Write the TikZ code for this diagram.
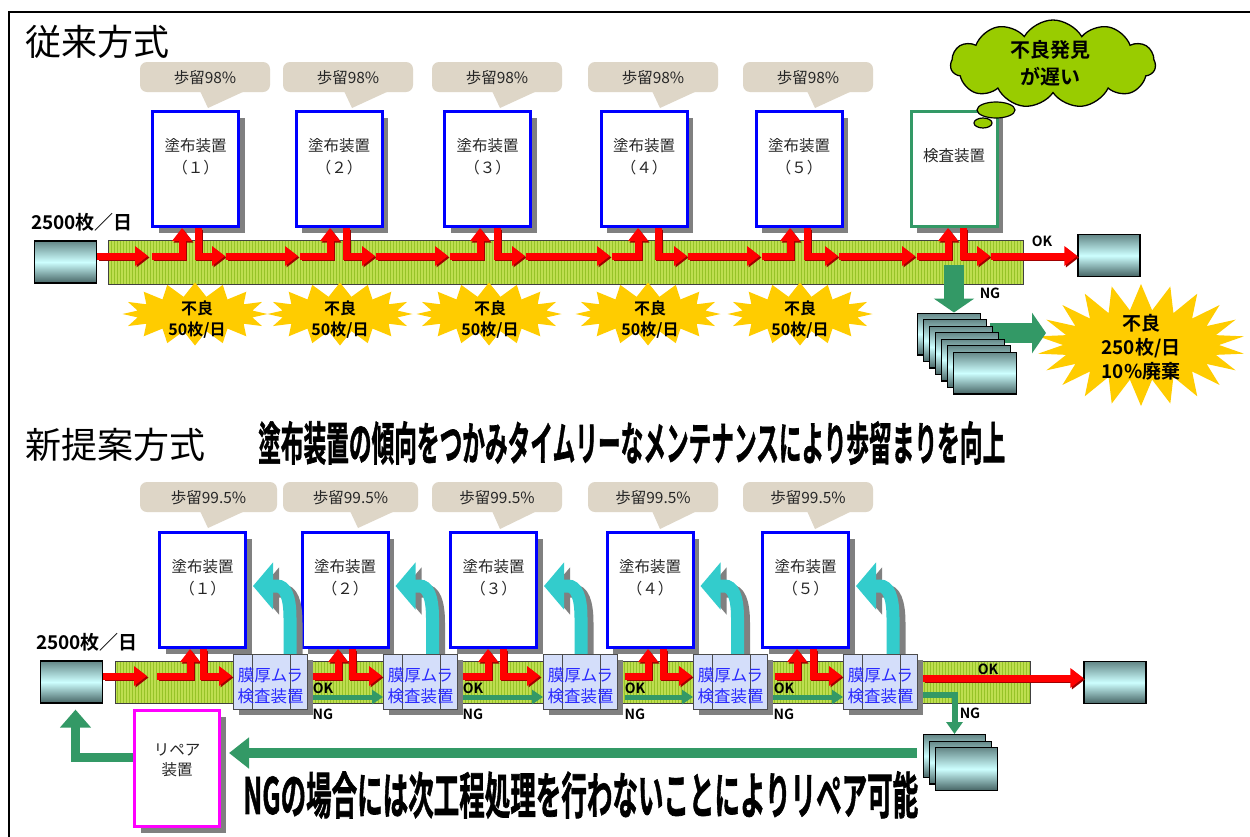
\documentclass[tikz,border=0pt]{standalone}
\usepackage{fontspec}
\setmainfont{Noto Sans CJK JP}[BoldFont={Noto Sans CJK JP Bold}]
\newfontfamily\heavy{Noto Sans CJK JP Bold}[FakeBold=1.5]
\usetikzlibrary{arrows.meta,shapes.symbols,shadows,patterns,calc}
\definecolor{beige}{RGB}{222,214,199}
\definecolor{cblue}{RGB}{0,0,255}
\definecolor{igreen}{RGB}{51,153,102}
\definecolor{beltc}{RGB}{190,222,80}
\definecolor{beltd}{RGB}{150,195,40}
\definecolor{cloudg}{RGB}{153,204,0}
\definecolor{staryel}{RGB}{255,204,0}
\definecolor{cyanc}{RGB}{51,204,204}
\definecolor{shgray}{RGB}{128,128,128}
\definecolor{insfill}{RGB}{212,222,250}
\definecolor{instext}{RGB}{40,40,255}
\definecolor{dred}{RGB}{160,0,0}
\definecolor{traytop}{RGB}{100,135,135}
\definecolor{traymid}{RGB}{205,255,255}
\definecolor{traybot}{RGB}{70,100,100}
\definecolor{magentab}{RGB}{255,0,255}
\tikzset{
  boxshadow/.style={drop shadow={shadow xshift=6pt, shadow yshift=-6pt, fill=shgray, opacity=1}},
  coater/.style={draw=cblue, line width=3pt, fill=white, minimum width=86pt, minimum height=115pt, inner sep=0pt, boxshadow},
  inspbox/.style={coater, draw=igreen},
  repbox/.style={coater, draw=magentab, minimum width=85pt, minimum height=116pt},
  boxtext/.style={font=\fontsize{15.5}{22}\selectfont, align=center, inner sep=0pt, text=black!85},
  bubtext/.style={font=\fontsize{15.5}{18}\selectfont, inner sep=0pt, text=black!85},
  mura/.style={draw=black!70, line width=1pt, fill=insfill, minimum width=74pt, minimum height=55pt, inner sep=0pt,
     drop shadow={shadow xshift=5pt, shadow yshift=-5pt, fill=shgray, opacity=1}},
  muratext/.style={font=\fontsize{16.5}{21}\selectfont, align=center, inner sep=0pt, text=instext},
  belt/.style={draw=black!75, line width=0.8pt, preaction={fill=beltc}, pattern=vertical lines, pattern color=beltd, inner sep=0pt},
  tray/.style={draw=black, line width=1.2pt, top color=traytop, bottom color=traybot, middle color=traymid, minimum width=62pt, minimum height=42pt, inner sep=0pt},
  title/.style={font=\fontsize{36}{40}\selectfont, anchor=west, inner sep=0pt},
  qty/.style={font=\bfseries\fontsize{19}{20}\selectfont, inner sep=0pt},
  lab/.style={font=\bfseries\fontsize{14}{14}\selectfont, inner sep=0pt},
  starb/.style={starburst, fill=staryel, draw=none, minimum width=145pt, minimum height=63pt, starburst points=16, starburst point height=14pt, random starburst=0, inner sep=0pt},
  startext/.style={font=\bfseries\fontsize{16}{21}\selectfont, align=center, inner sep=0pt},
  redarr/.style={draw=red, line width=7pt, -{Triangle[length=13pt,width=19pt]}},
  redsh/.style={redarr, draw=dred, transform canvas={xshift=1.5pt,yshift=-1.5pt}},
  gok/.style={draw=igreen, line width=5pt, -{Triangle[length=11pt,width=14pt]}},
  gng/.style={draw=igreen, line width=6pt, -{Triangle[length=12pt,width=16pt]}},
  gbig/.style={draw=igreen, line width=10pt, -{Triangle[length=20pt,width=30pt]}},
  gret/.style={draw=igreen, line width=9pt, -{Triangle[length=18pt,width=30pt]}},
  gblock/.style={draw=igreen, line width=20pt, -{Triangle[length=14pt,width=40pt]}},
  cyanA/.style={draw=cyanc, line width=13pt, -{Triangle[length=20pt,width=46pt]}},
  cyanS/.style={cyanA, draw=shgray, transform canvas={xshift=6pt,yshift=-5pt}},
}
% speech bubble: name, x1, x2, y1, y2, text, tipx, tipy
\newcommand\bubble[8]{%
  \fill[beige, rounded corners=7pt] (#2,#4) rectangle (#3,#5);
  \fill[beige] ({#7-8},{#5-1}) -- (#7,#8) -- ({#7+37},{#5-1}) -- cycle;
  \node[bubtext] (#1) at ({(#2+#3)/2},{(#4+#5)/2+1}) {#6};
}
\newcommand\redpath[1]{\draw[redsh] #1; \draw[redarr] #1;}
% machine routing: node, belt y, start x, up x, down x, end x
\newcommand\machine[6]{%
  \coordinate (#1-in) at (#3,#2);
  \coordinate (#1-up) at (#4,#2);
  \coordinate (#1-dn) at (#5,#2);
  \coordinate (#1-out) at (#6,#2);
  \redpath{(#1-in) -| (#1-up |- #1.south)}
  \redpath{(#1-dn |- #1.south) |- (#1-out)}
}
% cyan feedback arrow: inspection node, coater node
\newcommand\cyanpath[1]{(#1-c0) -- ($(#1-c0)+(0,-36)$) .. controls ($(#1-c0)+(0,-58)$) and ($(#1-ct)+(32,0)$) .. ($(#1-ct)+(24,0)$) -- (#1-ct)}
\newcommand\feedback[2]{%
  \coordinate (#1-cx) at ($(#2.east)+(43,0)$);
  \coordinate (#1-c0) at (#1-cx |- #1.north);
  \coordinate (#1-ct) at ($(#2.east)+(6,-4)$);
  \draw[cyanS] \cyanpath{#1};
  \draw[cyanA] \cyanpath{#1};
}
\begin{document}
\begin{tikzpicture}[x=1pt,y=-1pt]
\useasboundingbox (0,0) rectangle (1250,836);
\fill[white] (0,0) rectangle (1250,836);
\draw[line width=2pt] (1252,12) -- (9,12) -- (9,838);

% ================= 従来方式 =================
\node[title] (ttl1) at (25,42) {従来方式};
\node[qty] (q1) at (82,222) {2500枚／日};

\node[belt, minimum width=915pt, minimum height=44pt] (belt1) at (565.5,262) {};
\node[tray] (src1) at (65.5,262) {};
\node[tray] (dst1) at (1109,255.5) {};

\bubble{c1}{140}{270}{62}{92}{歩留98\%}{208}{108}
\bubble{c2}{283}{413}{62}{92}{歩留98\%}{352}{108}
\bubble{c3}{432}{562}{62}{92}{歩留98\%}{500}{108}
\bubble{c4}{588}{718}{62}{92}{歩留98\%}{660}{108}
\bubble{c5}{743}{873}{62}{92}{歩留98\%}{815}{108}

\node[coater] (t1) at (195.5,169) {};
\node[coater] (t2) at (339,169) {};
\node[coater] (t3) at (487.5,169) {};
\node[coater] (t4) at (644,169) {};
\node[coater] (t5) at (799,169) {};
\node[inspbox] (ti) at (954,169) {};
\node[boxtext] (t1x) at ($(t1.north)+(0,47)$) {塗布装置\\（１）};
\node[boxtext] (t2x) at ($(t2.north)+(0,47)$) {塗布装置\\（２）};
\node[boxtext] (t3x) at ($(t3.north)+(0,47)$) {塗布装置\\（３）};
\node[boxtext] (t4x) at ($(t4.north)+(0,47)$) {塗布装置\\（４）};
\node[boxtext] (t5x) at ($(t5.north)+(0,47)$) {塗布装置\\（５）};
\node[boxtext] (tix) at ($(ti.north)+(0,46)$) {検査装置};

% cloud
\node[cloud, cloud puffs=11, cloud puff arc=120, aspect=2.3, fill=cloudg, draw=black, line width=1.3pt,
      minimum width=205pt, minimum height=88pt, inner sep=0pt] (cl) at (1053,64) {};
\filldraw[fill=cloudg, draw=black, line width=1.2pt] (996,110) ellipse [x radius=19pt, y radius=8pt];
\filldraw[fill=cloudg, draw=black, line width=1.2pt] (983,123) ellipse [x radius=9pt, y radius=5pt];
\node[font=\bfseries\fontsize{20}{27}\selectfont, align=center, inner sep=0pt] (clx) at (1050,63) {不良発見\\が遅い};

% stars
\node[starb] (s1) at (195,314) {};
\node[starb] (s2) at (340,314) {};
\node[starb] (s3) at (489,314) {};
\node[starb] (s4) at (648,314) {};
\node[starb] (s5) at (800,314) {};
\node[startext] (s1x) at (197,320) {不良\\50枚/日};
\node[startext] (s2x) at (340,320) {不良\\50枚/日};
\node[startext] (s3x) at (490,320) {不良\\50枚/日};
\node[startext] (s4x) at (650,320) {不良\\50枚/日};
\node[startext] (s5x) at (800,320) {不良\\50枚/日};

\node[starb, minimum width=208pt, minimum height=122pt, starburst points=22, starburst point height=26pt] (sbig) at (1141,345) {};
\node[startext, font=\bfseries\fontsize{19}{24}\selectfont] (sbigx) at (1141,347) {不良\\250枚/日\\10\%廃棄};

% NG flow top
\coordinate (gdn) at (954,265);
\coordinate (grt) at (990,333);
\draw[gblock] (grt) -- (1046,333);
\foreach \k in {0,...,6} {
  \node[tray, minimum width=62.8pt, minimum height=41.8pt] (ts\k) at ({949+6*\k},{334+6.5*\k}) {};
}
\draw[gblock] (gdn) -- (gdn |- ts0.north);

% red flow top
\machine{t1}{256}{152}{182}{198}{225}
\machine{t2}{256}{300}{330}{346}{375}
\machine{t3}{256}{450}{480}{497}{525}
\machine{t4}{256}{612}{638}{658}{687}
\machine{t5}{256}{762}{790}{807}{838}
\machine{ti}{256}{917}{948}{963}{990}
\redpath{(src1.east |- t1-in) -- ([xshift=-4pt]t1-in)}
\redpath{([xshift=1pt]t1-out) -- ([xshift=-2pt]t2-in)}
\redpath{([xshift=1pt]t2-out) -- ([xshift=-2pt]t3-in)}
\redpath{([xshift=1pt]t3-out) -- ([xshift=-2pt]t4-in)}
\redpath{([xshift=1pt]t4-out) -- ([xshift=-2pt]t5-in)}
\redpath{([xshift=1pt]t5-out) -- ([xshift=-2pt]ti-in)}
\redpath{([xshift=1pt]ti-out) -- (ti-out -| dst1.west)}
\node[lab] (okt) at (1042,241) {OK};
\node[lab] (ngt) at (990,293) {NG};

% ================= 新提案方式 =================
\node[title] (ttl2) at (25,445) {新提案方式};
\node[anchor=west, inner sep=0pt] (ban1) at (258,443)
  {\resizebox{747pt}{\height}{\heavy\fontsize{46}{50}\selectfont 塗布装置の傾向をつかみタイムリーなメンテナンスにより歩留まりを向上}};
\node[qty] (q2) at (87,642) {2500枚／日};

\node[belt, minimum width=915pt, minimum height=42pt] (belt2) at (572.5,682) {};
\node[tray] (src2) at (71.5,682) {};
\node[tray] (dst2) at (1115,682.5) {};

\bubble{d1}{140}{277}{482}{512}{歩留99.5\%}{208}{528}
\bubble{d2}{283}{418}{482}{512}{歩留99.5\%}{358}{528}
\bubble{d3}{432}{562}{482}{512}{歩留99.5\%}{500}{529}
\bubble{d4}{588}{718}{482}{512}{歩留99.5\%}{660}{529}
\bubble{d5}{743}{873}{482}{512}{歩留99.5\%}{815}{529}

\node[coater] (b1) at (202.5,590) {};
\node[coater] (b2) at (345,590) {};
\node[coater] (b3) at (493.5,590) {};
\node[coater] (b4) at (650,590) {};
\node[coater] (b5) at (805.5,590) {};
\node[boxtext] (b1x) at ($(b1.north)+(0,47)$) {塗布装置\\（１）};
\node[boxtext] (b2x) at ($(b2.north)+(0,47)$) {塗布装置\\（２）};
\node[boxtext] (b3x) at ($(b3.north)+(0,47)$) {塗布装置\\（３）};
\node[boxtext] (b4x) at ($(b4.north)+(0,47)$) {塗布装置\\（４）};
\node[boxtext] (b5x) at ($(b5.north)+(0,47)$) {塗布装置\\（５）};

\node[repbox, draw=magentab] (rep) at (177,768.5) {};
\node[boxtext, font=\fontsize{15.5}{20}\selectfont] (repx) at ($(rep.center)+(0,-8)$) {リペア\\装置};

% inspection units
\coordinate (m1p) at (270.5,682);
\coordinate (m2p) at (420.5,682);
\coordinate (m3p) at (580.5,682);
\coordinate (m4p) at (730.5,682);
\coordinate (m5p) at (880.5,682);
\path (m1p) node[mura] (m1) {};
\path (m2p) node[mura] (m2) {};
\path (m3p) node[mura] (m3) {};
\path (m4p) node[mura] (m4) {};
\path (m5p) node[mura] (m5) {};
\feedback{m1}{b1}
\feedback{m2}{b2}
\feedback{m3}{b3}
\feedback{m4}{b4}
\feedback{m5}{b5}
\foreach \m in {m1,m2,m3,m4,m5} {
  \path (\m) node[mura] {};
  \draw[black!70, line width=1pt] ([xshift=19pt]\m.north west) -- ([xshift=19pt]\m.south west);
  \draw[black!70, line width=1pt] ([xshift=57pt]\m.north west) -- ([xshift=57pt]\m.south west);
  \node[muratext] at ($(\m.center)+(0,4)$) {膜厚ムラ\\検査装置};
}

% red flow bottom
\machine{b1}{676}{157}{190}{203}{232}
\machine{b2}{676}{313}{338}{352}{382}
\machine{b3}{676}{463}{488}{503}{540}
\machine{b4}{676}{625}{648}{663}{692}
\machine{b5}{676}{775}{797}{813}{842}
\redpath{(src2.east |- b1-in) -- ([xshift=-10pt]b1-in)}
\coordinate (ok5) at (923,678);
\redpath{(ok5) -- (ok5 -| dst2.west)}

% green OK flow
\coordinate (g1) at (313,697);
\coordinate (g2) at (463,697);
\coordinate (g3) at (625,697);
\coordinate (g4) at (773,697);
\draw[gok] (g1) -- (g1 -| m2.west);
\draw[gok] (g2) -- (g2 -| m3.west);
\draw[gok] (g3) -- (g3 -| m4.west);
\draw[gok] (g4) -- (g4 -| m5.west);
\node[lab] (ok1) at (323,688) {OK};
\node[lab] (ng1) at (323,714) {NG};
\node[lab] (ok2) at (473,688) {OK};
\node[lab] (ng2) at (473,714) {NG};
\node[lab] (ok3) at (635,688) {OK};
\node[lab] (ng3) at (635,714) {NG};
\node[lab] (ok4) at (784,688) {OK};
\node[lab] (ng4) at (784,714) {NG};
\node[lab] (ok5l) at (988,669) {OK};
\node[lab] (ng5l) at (970,713) {NG};

% NG trays bottom
\node[tray, minimum width=61.8pt, minimum height=42.8pt] (r0) at (954.5,756) {};
\node[tray, minimum width=61.8pt, minimum height=42.8pt] (r1) at (960.5,762.5) {};
\node[tray, minimum width=61.8pt, minimum height=42.8pt] (r2) at (966.5,769) {};
\coordinate (ng5) at (923,695);
\draw[gng] (ng5) -| (r0.north);

% return flow
\coordinate (ret) at (917,753);
\draw[gbig] (ret) -- ($(ret -| rep.east)+(8,0)$);
\coordinate (rp) at ($(rep.west)+(0,-11)$);
\draw[gret] (rp) -| ($(src2.south)+(4,6)$);

\node[anchor=west, inner sep=0pt] (ban2) at (243,795)
  {\resizebox{675pt}{\height}{\heavy\fontsize{50}{54}\selectfont NGの場合には次工程処理を行わないことによりリペア可能}};
\end{tikzpicture}
\end{document}
